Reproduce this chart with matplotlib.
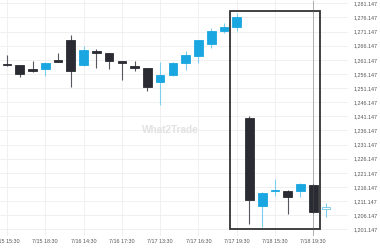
import numpy as np
import matplotlib
matplotlib.use("Agg")
from matplotlib import pyplot as plt
from matplotlib.patches import Rectangle

# candle data
opens = [1259.4, 1259.3, 1257.4, 1258.0, 1261.2, 1268.2, 1259.3, 1264.3, 1263.4, 1260.7,
         1258.6, 1258.1, 1253.4, 1255.8, 1259.9, 1262.5, 1266.6, 1271.3, 1272.9, 1240.4,
         1209.4, 1214.6, 1214.8, 1214.8, 1216.8, 1208.3]
highs = [1262.9, 1259.4, 1260.8, 1260.5, 1263.7, 1270.0, 1266.0, 1265.0, 1263.5, 1260.8,
         1260.8, 1258.2, 1260.5, 1260.5, 1264.4, 1268.2, 1272.3, 1274.1, 1277.6, 1241.3,
         1214.2, 1219.0, 1214.9, 1217.6, 1217.3, 1210.4]
lows = [1258.8, 1255.2, 1257.0, 1255.5, 1260.3, 1251.4, 1259.0, 1258.1, 1257.8, 1254.0,
        1257.3, 1250.2, 1245.1, 1255.5, 1257.4, 1259.9, 1265.4, 1270.5, 1271.3, 1203.0,
        1201.9, 1213.0, 1206.6, 1212.5, 1207.0, 1205.4]
closes = [1259.2, 1256.1, 1257.2, 1259.9, 1260.5, 1257.3, 1264.6, 1263.4, 1260.8, 1260.0,
          1258.4, 1251.4, 1255.8, 1259.9, 1262.7, 1268.2, 1271.3, 1272.9, 1276.4, 1211.5,
          1214.1, 1214.9, 1212.5, 1217.2, 1207.4, 1209.2]
hollow_candle = 25  # last candle is still forming

x_tick_pos = [0, 3, 6, 9, 12, 15, 18, 21, 24]
x_tick_labels = ["7/15 15:30", "7/15 18:30", "7/16 14:30", "7/16 17:30", "7/17 13:30",
                 "7/17 16:30", "7/17 19:30", "7/18 15:30", "7/18 19:30"]
y_ticks = [1201.147, 1206.147, 1211.147, 1216.147, 1221.147, 1226.147, 1231.147, 1236.147,
           1241.147, 1246.147, 1251.147, 1256.147, 1261.147, 1266.147, 1271.147, 1276.147,
           1281.147]

# pattern box
box_start, box_end = 17.47, 24.52
box_low, box_high = 1201.147, 1278.4
marker_candle = 24

blue = "#1aa7e1"
dark = "#2b2c33"

plt.rcParams['font.family'] = ['Liberation Sans', 'DejaVu Sans']

fig = plt.figure(figsize=(3.8, 2.5), dpi=100)
ax = fig.add_axes([0.0, 0.056, 0.915, 0.944])

x = np.arange(len(opens))
o = np.array(opens)
c = np.array(closes)
up = c >= o
body_low = np.minimum(o, c)
body_h = np.maximum(np.abs(c - o), 0.55)

wick_col = np.where(up, "#7fcdee", "#55575e")
ax.vlines(x, lows, highs, colors=wick_col, linewidth=0.8, zorder=2)

face = np.where(up, blue, dark).astype(object)
edge = face.copy()
face[hollow_candle] = "white"
edge[hollow_candle] = "#6cc4ea"
ax.bar(x, body_h, bottom=body_low, width=0.68, color=list(face),
       edgecolor=list(edge), linewidth=0.6, zorder=3)

ax.add_patch(Rectangle((box_start, box_low), box_end - box_start, box_high - box_low,
                       fill=False, edgecolor="#333333", linewidth=1.3, zorder=4))
ax.axvline(marker_candle, color="#555555", linewidth=0.6, linestyle=(0, (1.2, 1.2)), zorder=5)

ax.text(0.49, 0.45, "What2Trade", transform=ax.transAxes, ha="center", va="center",
        fontsize=7.2, fontweight="bold", color="#e2e2e2", zorder=1)

ax.set_xlim(-0.55, 26.7)
ax.set_ylim(1198.8, 1282.3)
ax.set_xticks(x_tick_pos)
ax.set_xticklabels(x_tick_labels)
ax.set_yticks(y_ticks)
ax.set_yticklabels([f"{v:,.3f}" for v in y_ticks])
ax.yaxis.tick_right()
ax.tick_params(axis="both", length=0, labelsize=3.9, labelcolor="#555555")
ax.tick_params(axis="y", pad=4.5)
ax.tick_params(axis="x", pad=2)
ax.grid(True, color="#eeeeee", linewidth=0.6, zorder=0)
ax.set_axisbelow(True)
for s in ax.spines.values():
    s.set_visible(False)

fig.savefig("out.png", dpi=100)
